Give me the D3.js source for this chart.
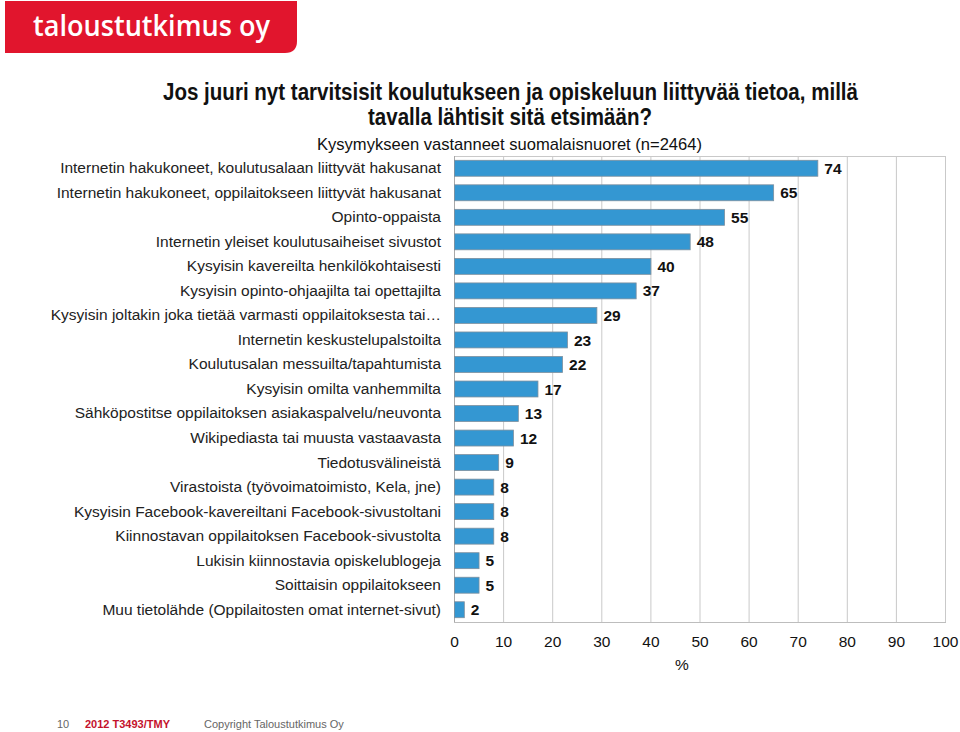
<!DOCTYPE html>
<html>
<head>
<meta charset="utf-8">
<script src="https://cdn.jsdelivr.net/npm/d3@7"></script>
<style>
html,body{margin:0;padding:0;background:#fff;}
svg{display:block;}
</style>
</head>
<body>
<svg id="chart" width="960" height="732"></svg>
<script>
const categories = [
  "Internetin hakukoneet, koulutusalaan liittyvät hakusanat",
  "Internetin hakukoneet, oppilaitokseen liittyvät hakusanat",
  "Opinto-oppaista",
  "Internetin yleiset koulutusaiheiset sivustot",
  "Kysyisin kavereilta henkilökohtaisesti",
  "Kysyisin opinto-ohjaajilta tai opettajilta",
  "Kysyisin joltakin joka tietää varmasti oppilaitoksesta tai…",
  "Internetin keskustelupalstoilta",
  "Koulutusalan messuilta/tapahtumista",
  "Kysyisin omilta vanhemmilta",
  "Sähköpostitse oppilaitoksen asiakaspalvelu/neuvonta",
  "Wikipediasta tai muusta vastaavasta",
  "Tiedotusvälineistä",
  "Virastoista (työvoimatoimisto, Kela, jne)",
  "Kysyisin Facebook-kavereiltani Facebook-sivustoltani",
  "Kiinnostavan oppilaitoksen Facebook-sivustolta",
  "Lukisin kiinnostavia opiskelublogeja",
  "Soittaisin oppilaitokseen",
  "Muu tietolähde (Oppilaitosten omat internet-sivut)"
];
const values = [74, 65, 55, 48, 40, 37, 29, 23, 22, 17, 13, 12, 9, 8, 8, 8, 5, 5, 2];
const xTicks = [0, 10, 20, 30, 40, 50, 60, 70, 80, 90, 100];
const titleLines = [
  "Jos juuri nyt tarvitsisit koulutukseen ja opiskeluun liittyvää tietoa, millä",
  "tavalla lähtisit sitä etsimään?"
];
const subtitle = "Kysymykseen vastanneet  suomalaisnuoret (n=2464)";
const axisTitle = "%";
const logoText = "taloustutkimus oy";
const footerPage = "10";
const footerCode = "2012 T3493/TMY";
const footerCopy = "Copyright Taloustutkimus Oy";

const svg = d3.select("#chart");
const FONT = "'Liberation Sans', Arial, sans-serif";
const NARROW = "'Liberation Sans Narrow', 'Liberation Sans', Arial, sans-serif";

// logo
const lx0 = 5, lx1 = 297, ly0 = 1, ly1 = 53, rr = 12;
svg.append("path")
  .attr("d", `M${lx0},${ly0}H${lx1}V${ly1 - rr}Q${lx1},${ly1} ${lx1 - rr},${ly1}H${lx0}Z`)
  .attr("fill", "#e1152d");
svg.append("text")
  .attr("x", 33).attr("y", 36)
  .attr("font-family", "'Open Sans', 'Noto Sans', sans-serif")
  .attr("font-weight", 600)
  .attr("font-size", 29)
  .attr("fill", "#fff")
  .attr("textLength", 237)
  .attr("lengthAdjust", "spacingAndGlyphs")
  .text(logoText);

// titles
const titleGeo = [{y: 100, x0: 163, w: 695}, {y: 125, x0: 368, w: 284}];
titleLines.forEach((t, i) => {
  svg.append("text")
    .attr("x", titleGeo[i].x0).attr("y", titleGeo[i].y)
    .attr("font-family", NARROW)
    .attr("font-weight", "bold")
    .attr("font-size", 23.5)
    .attr("fill", "#111")
    .attr("textLength", titleGeo[i].w)
    .attr("lengthAdjust", "spacingAndGlyphs")
    .text(t);
});
svg.append("text")
  .attr("x", 317).attr("y", 150)
  .attr("font-family", NARROW)
  .attr("font-size", 17)
  .attr("fill", "#111")
  .attr("textLength", 385)
  .attr("lengthAdjust", "spacingAndGlyphs")
  .text(subtitle);

// plot
const pLeft = 454, pRight = 945, pTop = 156, pBottom = 622;
const x = d3.scaleLinear().domain([0, 100]).range([pLeft, pRight]);
const y = d3.scaleBand().domain(categories).range([pTop, pBottom]).paddingInner(0.35).paddingOuter(0.175);

const grid = svg.append("g");
grid.selectAll("line.v").data(xTicks).join("line")
  .attr("x1", d => x(d) + 0.5).attr("x2", d => x(d) + 0.5)
  .attr("y1", pTop).attr("y2", pBottom)
  .attr("stroke", "#c9c9c9").attr("stroke-width", 1);
grid.append("line").attr("x1", pLeft).attr("x2", pRight + 1).attr("y1", pTop + 0.5).attr("y2", pTop + 0.5)
  .attr("stroke", "#c9c9c9");
grid.append("line").attr("x1", pLeft).attr("x2", pRight + 1).attr("y1", pBottom + 0.5).attr("y2", pBottom + 0.5)
  .attr("stroke", "#bdbdbd");
grid.append("line").attr("x1", pLeft + 0.5).attr("x2", pLeft + 0.5).attr("y1", pTop).attr("y2", pBottom)
  .attr("stroke", "#a8a8a8");

// bars
svg.append("g").selectAll("rect").data(values).join("rect")
  .attr("x", x(0) + 0.5)
  .attr("y", (d, i) => y(categories[i]))
  .attr("width", d => x(d) - x(0))
  .attr("height", y.bandwidth())
  .attr("fill", "#3497d2")
  .attr("stroke", "#7d8f9e")
  .attr("stroke-width", 0.8);

// value labels
svg.append("g").selectAll("text").data(values).join("text")
  .attr("x", d => x(d) + 7)
  .attr("y", (d, i) => y(categories[i]) + y.bandwidth() / 2)
  .attr("dy", "0.36em")
  .attr("font-family", FONT)
  .attr("font-weight", "bold")
  .attr("font-size", 15.5)
  .attr("fill", "#111")
  .text(d => d);

// category labels
const yAxis = d3.axisLeft(y).tickSize(0).tickPadding(13);
const gy = svg.append("g").attr("transform", `translate(${pLeft},0)`).call(yAxis);
gy.select(".domain").remove();
gy.selectAll("text")
  .attr("font-family", FONT)
  .attr("font-size", 15.5)
  .attr("fill", "#222");

// x axis labels
const xAxis = d3.axisBottom(x).tickValues(xTicks).tickSize(0).tickPadding(0);
const gx = svg.append("g").attr("transform", `translate(0,${pBottom})`).call(xAxis);
gx.select(".domain").remove();
gx.selectAll("text")
  .attr("font-family", FONT)
  .attr("font-size", 15.5)
  .attr("fill", "#111")
  .attr("dy", null)
  .attr("y", 25);

svg.append("text")
  .attr("x", 682).attr("y", 670)
  .attr("text-anchor", "middle")
  .attr("font-family", FONT)
  .attr("font-size", 15.5)
  .attr("fill", "#111")
  .text(axisTitle);

// footer
svg.append("text").attr("x", 57).attr("y", 728)
  .attr("font-family", FONT).attr("font-size", 11).attr("fill", "#666").text(footerPage);
svg.append("text").attr("x", 85).attr("y", 728)
  .attr("font-family", FONT).attr("font-size", 11).attr("font-weight", "bold").attr("fill", "#c4122c").text(footerCode);
svg.append("text").attr("x", 204).attr("y", 728)
  .attr("font-family", FONT).attr("font-size", 11).attr("fill", "#666").text(footerCopy);
</script>
</body>
</html>
